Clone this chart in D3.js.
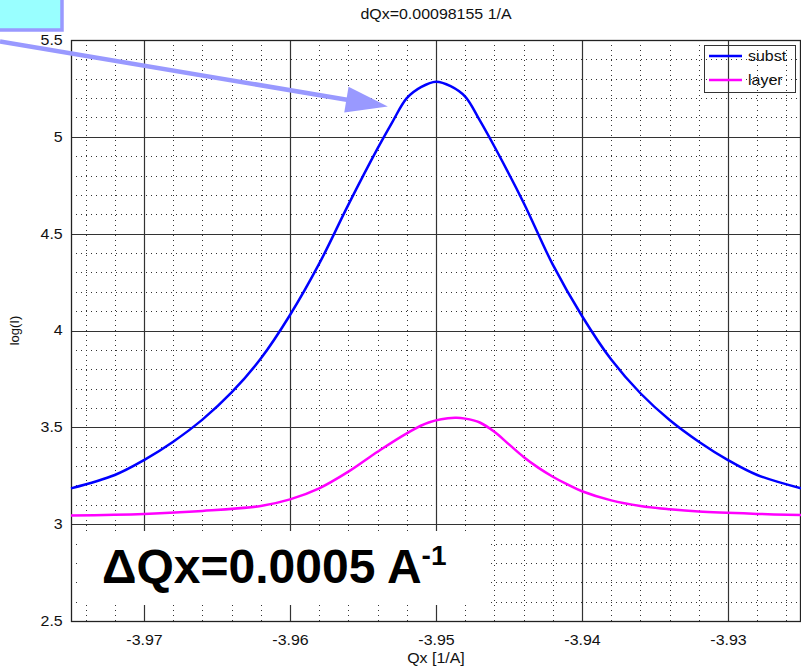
<!DOCTYPE html>
<html lang="en">
<head>
  <meta charset="UTF-8">
  <title>dQx scan</title>
  <script src="https://d3js.org/d3.v7.min.js"></script>
  <style>
    * { margin: 0; padding: 0; box-sizing: border-box; }
    body { background: #fff; width: 801px; height: 667px; overflow: hidden; }
    svg { display: block; font-family: 'Liberation Sans', Arial, sans-serif; }
  </style>
</head>
<body>
  <div id="chart"></div>

  <script>
    // Qx positions (1/A) and log intensities
    const substQx = [-3.975, -3.972, -3.970, -3.968, -3.966, -3.964, -3.962, -3.960, -3.958, -3.956,
                     -3.954, -3.953, -3.952, -3.951, -3.950, -3.949, -3.948, -3.947, -3.946, -3.944,
                     -3.942, -3.940, -3.938, -3.936, -3.934, -3.932, -3.930, -3.928, -3.925];
    const substLogI = [3.185, 3.254, 3.331, 3.426, 3.540, 3.680, 3.855, 4.080, 4.345, 4.650,
                       4.940, 5.075, 5.200, 5.258, 5.285, 5.262, 5.208, 5.085, 4.950, 4.660,
                       4.340, 4.075, 3.850, 3.676, 3.538, 3.426, 3.331, 3.254, 3.185];

    const layerQx = [-3.975, -3.970, -3.966, -3.962, -3.960, -3.958, -3.956, -3.954, -3.952, -3.9505,
                     -3.9487, -3.948, -3.947, -3.946, -3.945, -3.944, -3.943, -3.942, -3.941, -3.940,
                     -3.938, -3.936, -3.934, -3.932, -3.928, -3.925];
    const layerLogI = [3.045, 3.053, 3.068, 3.094, 3.128, 3.185, 3.271, 3.374, 3.469, 3.525,
                       3.549, 3.545, 3.525, 3.477, 3.412, 3.347, 3.292, 3.245, 3.205, 3.170,
                       3.123, 3.094, 3.077, 3.065, 3.053, 3.047];

    const xMajor = [-3.97, -3.96, -3.95, -3.94, -3.93];
    const xMinor = d3.range(-3974, -3924, 2).map(d => d / 1000);
    const yMajor = [2.5, 3, 3.5, 4, 4.5, 5, 5.5];
    const yMinor = d3.range(25, 56, 1).map(d => d / 10);

    const seriesNames = ["subst", "layer"];
    const seriesColors = ["#0000ff", "#ff00ff"];

    const width = 801, height = 667;
    const plot = {left: 71, top: 40, right: 800.5, bottom: 621};
    const stretch = "scale(1.14,1)";   // the source text is a bit wide

    const svg = d3.select("#chart").append("svg")
      .attr("width", width)
      .attr("height", height);

    const x = d3.scaleLinear().domain([-3.975, -3.925]).range([plot.left, 801]);
    const y = d3.scaleLinear().domain([2.5, 5.5]).range([plot.bottom, plot.top]);

    const grid = svg.append("g");
    const px = v => Math.round(v) + 0.5;

    // minor dotted grid
    grid.selectAll(".vminor").data(xMinor.filter(d => !xMajor.some(m => Math.abs(m - d) < 1e-6)))
      .enter().append("line")
      .attr("x1", d => px(x(d))).attr("x2", d => px(x(d)))
      .attr("y1", plot.top).attr("y2", plot.bottom)
      .attr("stroke", "#333").attr("stroke-width", 1).attr("stroke-dasharray", "1,4");

    grid.selectAll(".hminor").data(yMinor.filter(d => !yMajor.some(m => Math.abs(m - d) < 1e-6)))
      .enter().append("line")
      .attr("y1", d => px(y(d))).attr("y2", d => px(y(d)))
      .attr("x1", plot.left).attr("x2", plot.right)
      .attr("stroke", "#333").attr("stroke-width", 1).attr("stroke-dasharray", "1,4");

    // major solid grid
    grid.selectAll(".vmajor").data(xMajor).enter().append("line")
      .attr("x1", d => px(x(d))).attr("x2", d => px(x(d)))
      .attr("y1", plot.top).attr("y2", plot.bottom)
      .attr("stroke", "#333").attr("stroke-width", 1.2);

    grid.selectAll(".hmajor").data(yMajor).enter().append("line")
      .attr("y1", d => px(y(d))).attr("y2", d => px(y(d)))
      .attr("x1", plot.left).attr("x2", plot.right)
      .attr("stroke", "#333").attr("stroke-width", 1.2);

    // white label panel in the lower band
    svg.append("rect")
      .attr("x", 80).attr("y", 531)
      .attr("width", 407).attr("height", 74)
      .attr("fill", "#fff");

    svg.append("text")
      .attr("x", 102).attr("y", 583)
      .attr("font-size", 48).attr("font-weight", "bold")
      .text("ΔQx=0.0005 A")
      .append("tspan")
      .attr("font-size", 28).attr("dy", -18)
      .text("-1");

    // frame
    svg.append("rect")
      .attr("x", plot.left + 0.5).attr("y", plot.top + 0.5)
      .attr("width", plot.right - plot.left - 0.5).attr("height", plot.bottom - plot.top)
      .attr("fill", "none").attr("stroke", "#222").attr("stroke-width", 1.3);

    // axes labels
    const yAxis = d3.axisLeft(y).tickValues(yMajor).tickSize(0).tickPadding(0)
      .tickFormat(d3.format("~g"));
    svg.append("g").attr("transform", `translate(${plot.left},0)`).call(yAxis)
      .call(g => g.select(".domain").remove())
      .selectAll("text")
      .attr("x", -7.3).attr("transform", stretch)
      .attr("font-size", 14).attr("fill", "#111")
      .attr("font-family", "'Liberation Sans', Arial, sans-serif");

    const xAxis = d3.axisBottom(x).tickValues(xMajor).tickSize(0).tickPadding(14)
      .tickFormat(d => d3.format(".2f")(d).replace("−", "-"));
    svg.append("g").attr("transform", `translate(0,${plot.bottom})`).call(xAxis)
      .call(g => g.select(".domain").remove())
      .selectAll("text").attr("transform", stretch)
      .attr("font-size", 14).attr("fill", "#111")
      .attr("font-family", "'Liberation Sans', Arial, sans-serif");

    svg.append("text")
      .attr("transform", `translate(${(plot.left + 801) / 2},19) ${stretch}`)
      .attr("text-anchor", "middle").attr("font-size", 14).attr("fill", "#111")
      .text("dQx=0.00098155 1/A");

    svg.append("text")
      .attr("transform", `translate(${(plot.left + 801) / 2},663) ${stretch}`)
      .attr("text-anchor", "middle").attr("font-size", 14).attr("fill", "#111")
      .text("Qx [1/A]");

    svg.append("text")
      .attr("transform", `translate(19,${(plot.top + plot.bottom) / 2}) rotate(-90)`)
      .attr("text-anchor", "middle").attr("font-size", 13).attr("fill", "#111")
      .text("log(I)");

    // curves
    const line = d3.line()
      .x(d => x(d[0]))
      .y(d => y(d[1]))
      .curve(d3.curveCatmullRom.alpha(0.5));

    const series = [
      d3.zip(substQx, substLogI),
      d3.zip(layerQx, layerLogI)
    ];

    svg.selectAll(".curve").data(series).enter().append("path")
      .attr("fill", "none")
      .attr("stroke", (d, i) => seriesColors[i])
      .attr("stroke-width", 2.5)
      .attr("stroke-linejoin", "round")
      .attr("d", line);

    // legend
    const legend = svg.append("g").attr("transform", "translate(704,45)");
    legend.append("rect")
      .attr("x", 0.5).attr("y", 0.5).attr("width", 91).attr("height", 47)
      .attr("fill", "none").attr("stroke", "#333").attr("stroke-width", 1);
    seriesNames.forEach((name, i) => {
      legend.append("line")
        .attr("x1", 5).attr("x2", 38)
        .attr("y1", 11 + i * 24).attr("y2", 11 + i * 24)
        .attr("stroke", seriesColors[i]).attr("stroke-width", 2.5);
      legend.append("text")
        .attr("transform", `translate(44,${16 + i * 24}) ${stretch}`)
        .attr("font-size", 14).attr("fill", "#111")
        .text(name);
    });

    // callout box and arrow
    svg.append("rect")
      .attr("x", -10).attr("y", -10)
      .attr("width", 72).attr("height", 40)
      .attr("fill", "#99ffff").attr("stroke", "#9999ff").attr("stroke-width", 3.5);

    const tip = [x(-3.9533), y(5.156)];
    const start = [0, 41.5];
    const ang = Math.atan2(tip[1] - start[1], tip[0] - start[0]);
    const headLen = 42, headW = 13;
    const base = [tip[0] - headLen * Math.cos(ang), tip[1] - headLen * Math.sin(ang)];

    svg.append("line")
      .attr("x1", start[0]).attr("y1", start[1])
      .attr("x2", base[0] + 2 * Math.cos(ang)).attr("y2", base[1] + 2 * Math.sin(ang))
      .attr("stroke", "#9999ff").attr("stroke-width", 4.5);

    svg.append("path")
      .attr("d", `M${tip[0]},${tip[1]}` +
        `L${base[0] + headW * Math.sin(ang)},${base[1] - headW * Math.cos(ang)}` +
        `L${base[0] - headW * Math.sin(ang)},${base[1] + headW * Math.cos(ang)}Z`)
      .attr("fill", "#9999ff");
  </script>
</body>
</html>
